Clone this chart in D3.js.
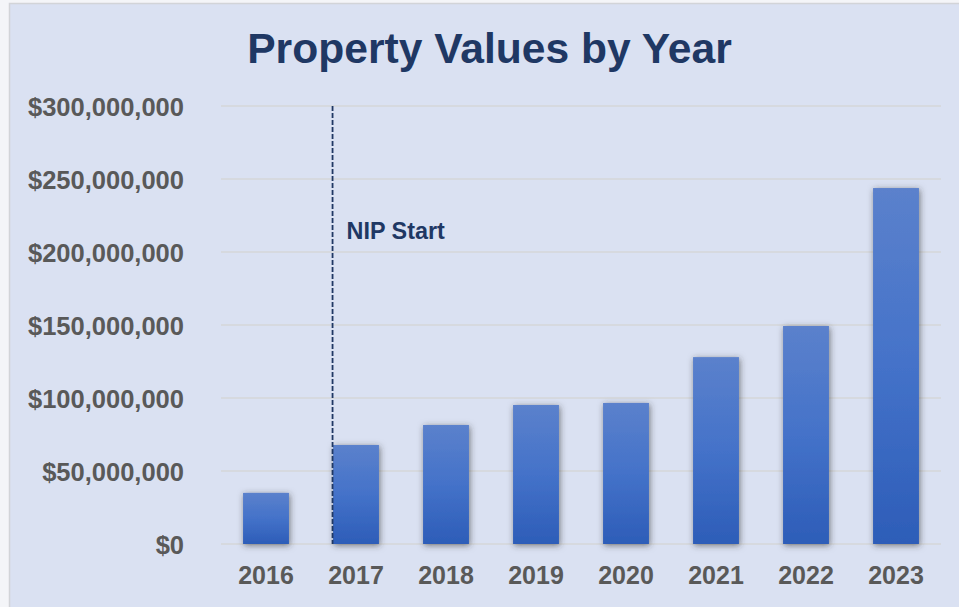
<!DOCTYPE html>
<html><head><meta charset="utf-8">
<script src="https://cdn.jsdelivr.net/npm/d3@7"></script>
<style>
html,body{margin:0;padding:0;background:#f4f5f8;}
svg{display:block;font-family:"Liberation Sans",Arial,sans-serif;}
</style></head>
<body>
<script>
const years = ["2016","2017","2018","2019","2020","2021","2022","2023"];
const values = [35000000, 67800000, 81500000, 95200000, 96600000, 128000000, 149300000, 243800000];
const yTicks = [0, 50000000, 100000000, 150000000, 200000000, 250000000, 300000000];
const markerYear = "2017";
const markerLabel = "NIP Start";
const title = "Property Values by Year";

const W = 959, H = 607;
const svg = d3.select("body").append("svg").attr("width", W).attr("height", H);
const defs = svg.append("defs");
const grad = defs.append("linearGradient").attr("id","barGrad").attr("x1",0).attr("y1",0).attr("x2",0).attr("y2",1);
grad.append("stop").attr("offset","0%").attr("stop-color","#5b81cc");
grad.append("stop").attr("offset","50%").attr("stop-color","#4472c9");
grad.append("stop").attr("offset","100%").attr("stop-color","#2d5db8");
const f = defs.append("filter").attr("id","shadow").attr("x","-30%").attr("y","-10%").attr("width","160%").attr("height","130%");
f.append("feDropShadow").attr("dx",1).attr("dy",1.5).attr("stdDeviation",3.2).attr("flood-color","#333333").attr("flood-opacity",0.6);

// chart background
svg.append("rect").attr("x",9.5).attr("y",3.5).attr("width",W).attr("height",H)
  .attr("fill","#dae1f2").attr("stroke","#d2d4d8").attr("stroke-width",1.5);

const x = d3.scaleBand().domain(years).range([221, 941]).paddingInner(0.49).paddingOuter(0.245);
const y = d3.scaleLinear().domain([0, 300000000]).range([544, 106]);

// gridlines
svg.append("g").selectAll("line").data(yTicks).join("line")
  .attr("x1",221).attr("x2",941).attr("y1",d=>y(d)).attr("y2",d=>y(d))
  .attr("stroke","#d6d9df").attr("stroke-width",2);

// y axis labels
const yAxis = d3.axisLeft(y).tickValues(yTicks).tickSize(0).tickPadding(0)
  .tickFormat(d => "$" + d3.format(",")(d));
const gy = svg.append("g").attr("transform","translate(184,0)").call(yAxis);
gy.select(".domain").remove();
gy.selectAll("text").attr("font-size",25.5).attr("font-weight","bold").attr("fill","#595959")
  .attr("font-family","'Liberation Sans',Arial,sans-serif").attr("dy","0.36em");

// bars
svg.append("g").selectAll("rect").data(years).join("rect")
  .attr("x", d => x(d)).attr("width", x.bandwidth())
  .attr("y", (d,i) => y(values[i])).attr("height", (d,i) => y(0) - y(values[i]))
  .attr("fill","url(#barGrad)").attr("filter","url(#shadow)");

// x axis labels
const xAxis = d3.axisBottom(x).tickSize(0).tickPadding(0);
const gx = svg.append("g").attr("transform","translate(0,584)").call(xAxis);
gx.select(".domain").remove();
gx.selectAll("text").attr("font-size",25).attr("font-weight","bold").attr("fill","#595959")
  .attr("font-family","'Liberation Sans',Arial,sans-serif").attr("dy",0);

// marker line
const mx = x(markerYear) - 0.5;
svg.append("line").attr("x1",mx).attr("x2",mx).attr("y1",y(300000000)).attr("y2",y(0))
  .attr("stroke","#1f3864").attr("stroke-width",1.8).attr("stroke-dasharray","5,2");
svg.append("text").attr("x",mx+14).attr("y",239).text(markerLabel)
  .attr("font-size",23.4).attr("font-weight","bold").attr("fill","#1f3864");

// title
svg.append("text").attr("x",489.5).attr("y",63).attr("text-anchor","middle").text(title)
  .attr("font-size",42.6).attr("font-weight","bold").attr("fill","#1f3864");
</script>
</body></html>
